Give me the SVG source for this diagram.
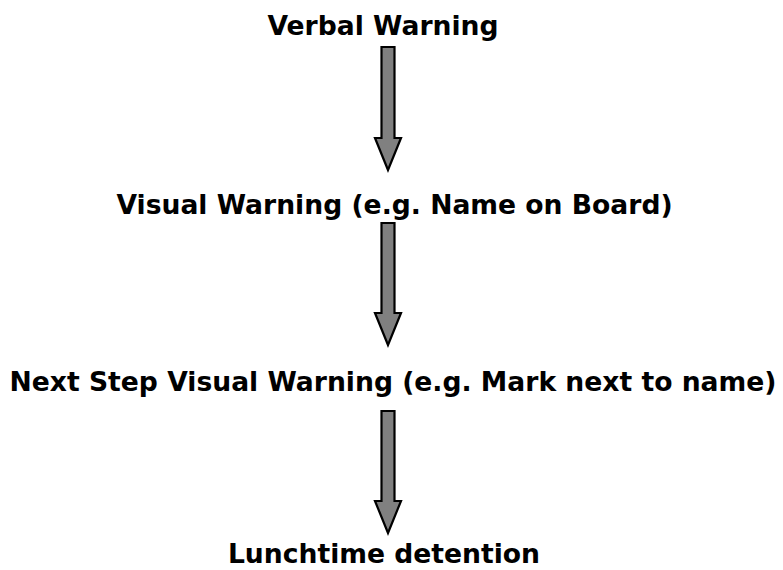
<svg xmlns="http://www.w3.org/2000/svg" width="783" height="570" viewBox="0 0 783 570">
<style>
.lbl{font-family:Verdana,"DejaVu Sans",sans-serif;font-weight:bold;font-size:26.6px;fill:#000;text-anchor:middle}
.arr{fill:#808080;stroke:#000;stroke-width:2.2;stroke-linejoin:miter}
</style>
<rect width="783" height="570" fill="#fff"/>
<g id="n1"><text class="lbl" x="383" y="35">Verbal Warning</text></g>
<g id="n2"><text class="lbl" x="394.5" y="214">Visual Warning (e.g. Name on Board)</text></g>
<g id="n3"><text class="lbl" x="393" y="391">Next Step Visual Warning (e.g. Mark next to name)</text></g>
<g id="n4"><text class="lbl" x="384" y="563">Lunchtime detention</text></g>
<g id="connectors">
<polygon class="arr" points="381.5,47 394.5,47 394.5,138 401,138 388,170 375,138 381.5,138"/>
<polygon class="arr" points="381.5,223 394.5,223 394.5,313 401,313 388,345 375,313 381.5,313"/>
<polygon class="arr" points="381.5,411 394.5,411 394.5,501 401,501 388,533 375,501 381.5,501"/>
</g>
</svg>
